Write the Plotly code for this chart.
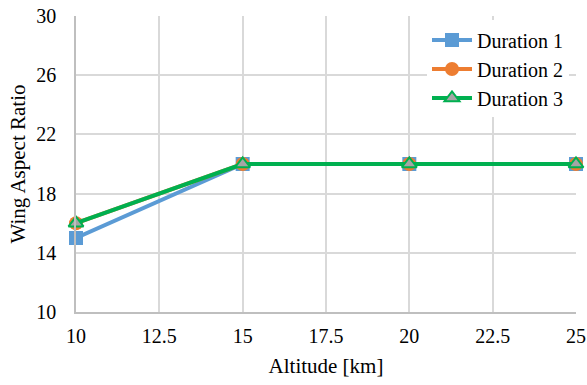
import plotly.graph_objects as go

altitude = [10, 15, 20, 25]
duration1 = [15, 20, 20, 20]
duration2 = [16, 20, 20, 20]
duration3 = [16, 20, 20, 20]

fig = go.Figure()
fig.add_trace(go.Scatter(x=altitude, y=duration1, name="Duration 1", mode="lines+markers",
                         line=dict(color="#5b9bd5", width=4),
                         marker=dict(symbol="square", size=14, color="#5b9bd5"), cliponaxis=False))
fig.add_trace(go.Scatter(x=altitude, y=duration2, name="Duration 2", mode="lines+markers",
                         line=dict(color="#ed7d31", width=4),
                         marker=dict(symbol="circle", size=14, color="#ed7d31"), cliponaxis=False))
fig.add_trace(go.Scatter(x=altitude, y=duration3, name="Duration 3", mode="lines+markers",
                         line=dict(color="#00b050", width=4),
                         marker=dict(symbol="triangle-up", size=13, color="#a5a5a5",
                                     line=dict(color="#00b050", width=2)), cliponaxis=False))

font = "Liberation Serif"
fig.update_layout(
    width=587, height=385,
    margin=dict(l=76, r=11, t=16, b=73, autoexpand=False),
    paper_bgcolor="white", plot_bgcolor="white",
    font=dict(family=font, size=20, color="black"),
    showlegend=True,
    legend=dict(x=0.986, y=0.985, xanchor="right", yanchor="top",
                bgcolor="white", font=dict(family=font, size=20),
                tracegroupgap=0, itemwidth=40),
)
fig.update_xaxes(range=[10, 25], tickvals=[10, 12.5, 15, 17.5, 20, 22.5, 25],
                 ticktext=["10", "12.5", "15", "17.5", "20", "22.5", "25"],
                 showgrid=True, gridcolor="#d9d9d9", gridwidth=1.5,
                 showline=True, linecolor="#bfbfbf", linewidth=1.5,
                 zeroline=False, ticks="", ticklabelstandoff=5, automargin=False,
                 tickfont=dict(family=font, size=20),
                 title=dict(text="Altitude [km]", font=dict(family=font, size=21), standoff=13))
fig.update_yaxes(range=[10, 30], tickvals=[10, 14, 18, 22, 26, 30],
                 showgrid=True, gridcolor="#d9d9d9", gridwidth=1.5,
                 showline=True, linecolor="#bfbfbf", linewidth=1.5,
                 zeroline=False, ticks="", ticklabelstandoff=14, automargin=False,
                 tickfont=dict(family=font, size=20),
                 title=dict(text="Wing Aspect Ratio", font=dict(family=font, size=21), standoff=5))

fig.write_html("out.html", config={"displayModeBar": False},
               post_script="document.body.style.margin='0';")
